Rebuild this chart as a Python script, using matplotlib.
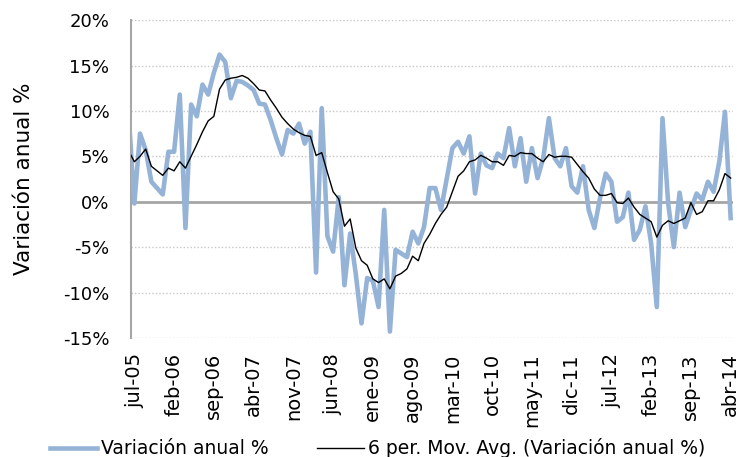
# ----------------------------------------------------------------------------
# Variación anual % y media móvil de 6 periodos (jul-05 a abr-14)
# ----------------------------------------------------------------------------

import numpy as np
import matplotlib.pyplot as plt
from matplotlib.ticker import FuncFormatter

# ----------------------------------------------------------------------------
# 1. DATOS (en %)

# Meses: el primero (jun-05) queda recortado en el borde izquierdo
meses_abrev = ['ene', 'feb', 'mar', 'abr', 'may', 'jun',
               'jul', 'ago', 'sep', 'oct', 'nov', 'dic']
mes_inicio = (2005, 6)
n_meses = 107

variacion_anual = [
    9.6,
    -0.2, 7.5, 5.7, 2.2, 1.5, 0.8, 5.5, 5.5, 11.8, -2.9,
    10.7, 9.4, 12.9, 11.8, 14.2, 16.2, 15.4, 11.4, 13.3, 13.2,
    12.8, 12.3, 10.8, 10.7, 9.0, 7.0, 5.2, 7.9, 7.5, 8.6,
    6.4, 7.7, -7.8, 10.3, -3.8, -5.5, 0.5, -9.2, -3.5, -8.0,
    -13.4, -8.4, -8.7, -11.6, -0.9, -14.3, -5.3, -5.7, -6.1, -3.3,
    -4.6, -2.8, 1.5, 1.5, -0.9, 2.5, 5.9, 6.6, 5.3, 7.2,
    0.9, 5.3, 4.0, 3.7, 5.3, 4.8, 8.1, 3.9, 7.0, 2.2,
    5.9, 2.6, 4.8, 9.2, 4.8, 3.9, 5.9, 1.7, 1.0, 3.9,
    -0.9, -2.9, 0.4, 3.1, 2.2, -2.2, -1.7, 1.0, -4.2, -3.1,
    -0.5, -4.6, -11.6, 9.2, -0.2, -5.0, 1.0, -2.8, -0.9, 0.9,
    0.2, 2.2, 1.1, 4.4, 9.9, -1.8,
]

media_movil = [
    5.6,
    4.4, 5.0, 5.8, 3.9, 3.4, 2.9, 3.7, 3.4, 4.4, 3.7,
    5.0, 6.3, 7.7, 8.9, 9.4, 12.4, 13.4, 13.6, 13.7, 13.9,
    13.6, 13.0, 12.3, 12.2, 11.2, 10.3, 9.3, 8.6, 8.0, 7.6,
    7.3, 7.2, 5.1, 5.4, 3.2, 1.1, 0.3, -2.7, -1.9, -5.1,
    -6.5, -7.0, -8.5, -8.9, -8.5, -9.6, -8.2, -7.9, -7.4, -6.0,
    -6.5, -4.6, -3.6, -2.4, -1.4, -0.6, 1.1, 2.8, 3.4, 4.4,
    4.6, 5.1, 4.8, 4.4, 4.4, 4.0, 5.1, 5.0, 5.4, 5.3,
    5.3, 4.8, 4.4, 5.2, 4.9, 5.0, 5.0, 4.9, 4.1, 3.3,
    2.6, 1.4, 0.7, 0.7, 0.9, -0.1, -0.2, 0.4, -0.6, -1.4,
    -1.8, -2.2, -3.9, -2.6, -2.1, -2.4, -2.1, -1.8, -0.1, -1.4,
    -1.1, 0.1, 0.1, 1.3, 3.1, 2.6,
]

# Etiquetas de todos los meses y cada cuánto se rotulan
etiquetas = []
for i in range(n_meses):
    m = mes_inicio[1] - 1 + i
    anio = mes_inicio[0] + m // 12
    etiquetas.append(f'{meses_abrev[m % 12]}-{anio % 100:02d}')
paso_etiquetas = 7

# ----------------------------------------------------------------------------
# 2. GRÁFICO

color_azul = '#95B3D7'
color_gris = '#A6A6A6'

fig = plt.figure(figsize=(7.4, 4.57), dpi=100)
ax = fig.add_axes([0.1777, 0.2606, 0.8135, 0.6954])

x = np.arange(n_meses) - 1  # jun-05 en x = -1

ax.plot(x, variacion_anual, color=color_azul, linewidth=3.3,
        solid_joinstyle='round', label='Variación anual %', zorder=3)
ax.plot(x, media_movil, color='black', linewidth=1.0,
        label='6 per. Mov. Avg. (Variación anual %)', zorder=4)

# Ejes
ax.set_xlim(-0.5, n_meses - 1.5)
ax.set_ylim(-15, 20)
ax.set_yticks(np.arange(-15, 21, 5))
ax.yaxis.set_major_formatter(FuncFormatter(lambda v, p: f'{v:.0f}%'))

ticks = list(range(0, n_meses - 1, paso_etiquetas))
ax.set_xticks(ticks)
ax.set_xticklabels([etiquetas[t + 1] for t in ticks], rotation=90,
                   fontsize=14)
ax.tick_params(axis='x', length=0, pad=11)
ax.tick_params(axis='y', length=0, pad=16, labelsize=13)

# Cuadrícula punteada y línea de cero
ax.grid(axis='y', linestyle=(0, (1, 1.5)), color='#C8C8C8', linewidth=1.0)
ax.grid(axis='x', visible=False)
ax.axhline(0, color=color_gris, linewidth=2.0, zorder=2)

for lado in ['top', 'right', 'bottom']:
    ax.spines[lado].set_visible(False)
ax.spines['left'].set_color(color_gris)
ax.spines['left'].set_linewidth(1.5)

ax.set_ylabel('Variación anual %', fontsize=15.5)
ax.yaxis.set_label_coords(-0.162, 0.5)

# Leyenda abajo
fig.legend(loc='center', bbox_to_anchor=(0.51, 0.019), ncol=2,
           frameon=False, fontsize=13.5, handlelength=2.5,
           handletextpad=0.2, columnspacing=2.6)

fig.savefig('out.png', dpi=100)
